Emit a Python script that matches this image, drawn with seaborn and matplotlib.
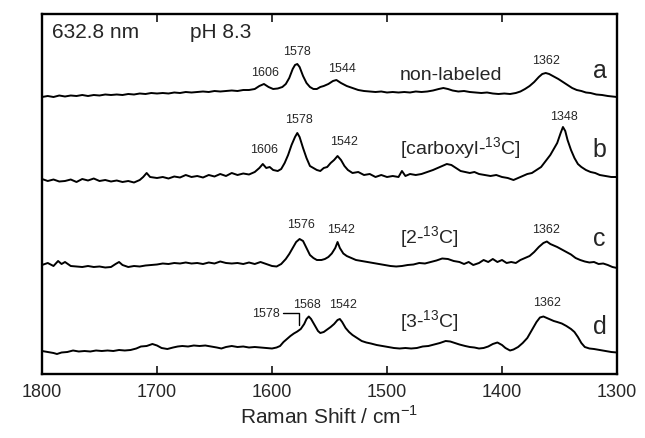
import numpy as np
import pandas as pd
import seaborn as sns
import matplotlib
matplotlib.use("Agg")
import matplotlib.pyplot as plt

# spectra (Raman shift in cm-1, intensity in arbitrary units)
shift_a = [1800, 1795, 1790, 1785, 1780, 1775, 1770, 1765, 1760, 1755, 1750, 1745, 1740, 1735, 1730,
           1725, 1720, 1715, 1710, 1705, 1700, 1695, 1690, 1685, 1680, 1675, 1670, 1665, 1660, 1655,
           1650, 1645, 1640, 1635, 1630, 1625, 1620, 1615, 1611, 1607, 1603, 1599, 1595, 1591, 1588,
           1585, 1582, 1580, 1578, 1576, 1573, 1570, 1567, 1564, 1561, 1558, 1555, 1551, 1547, 1544,
           1540, 1535, 1530, 1525, 1520, 1515, 1510, 1505, 1500, 1495, 1490, 1485, 1480, 1475, 1470,
           1465, 1460, 1455, 1451, 1447, 1443, 1438, 1433, 1428, 1423, 1418, 1413, 1408, 1403, 1398,
           1393, 1388, 1384, 1380, 1376, 1372, 1368, 1365, 1362, 1359, 1355, 1351, 1347, 1343, 1339,
           1335, 1331, 1327, 1323, 1318, 1313, 1308, 1304, 1300]
int_a = [3, 4, 3, 4.5, 3.5, 4.5, 4, 5, 4, 5, 4.5, 5.5, 5, 5.5, 5,
         6, 5.5, 6.5, 6, 7, 6.5, 7, 6.5, 7.5, 7, 8, 7.5, 8, 8.5, 8,
         9, 8.5, 9, 9.5, 9, 10, 10, 11, 14, 16, 13, 11, 11.5, 13, 16,
         22, 31, 35, 36, 33, 24, 17, 13, 11, 11, 13, 14, 16, 19, 20,
         17, 14, 12, 10, 9, 8.5, 8, 8.5, 7.5, 8, 7.5, 8, 7.5, 8.5, 8,
         8.5, 9.5, 11, 12, 11, 9.5, 8.5, 9, 8, 7.5, 7, 7.5, 6.5, 6, 6.5,
         6, 7, 8.5, 11, 14, 18, 23, 26, 27, 26, 23.5, 21, 18, 15, 12,
         10, 9, 7.5, 7, 5.5, 5, 4, 3.5, 3]

shift_b = [1800, 1795, 1790, 1785, 1780, 1775, 1770, 1765, 1760, 1755, 1750, 1745, 1740, 1735, 1730,
           1725, 1720, 1715, 1712, 1709, 1706, 1700, 1695, 1690, 1685, 1680, 1675, 1670, 1665, 1660,
           1655, 1650, 1645, 1640, 1635, 1630, 1625, 1620, 1615, 1611, 1608, 1605, 1602, 1599, 1595,
           1592, 1589, 1586, 1583, 1580, 1578, 1576, 1573, 1570, 1567, 1564, 1561, 1558, 1555, 1552,
           1549, 1546, 1543, 1540, 1537, 1534, 1530, 1525, 1520, 1515, 1510, 1505, 1500, 1495, 1490,
           1487, 1484, 1480, 1475, 1470, 1465, 1460, 1456, 1452, 1448, 1444, 1440, 1436, 1432, 1428,
           1424, 1420, 1415, 1410, 1405, 1400, 1395, 1390, 1386, 1382, 1378, 1374, 1370, 1366, 1362,
           1358, 1355, 1352, 1349, 1347, 1345, 1343, 1340, 1337, 1334, 1331, 1327, 1323, 1319, 1315,
           1310, 1305, 1300]
int_b = [6, 4, 5.5, 3.5, 4, 5.5, 3, 6, 4.5, 6.5, 4, 5, 3.5, 4.5, 3,
         4, 2.5, 5, 8, 12, 8, 7, 8, 6.5, 8.5, 7.5, 10, 8, 9, 7.5,
         10, 8.5, 11, 9, 12, 10, 11.5, 10.5, 13, 17, 21, 17, 18, 15, 14,
         16, 22, 30, 40, 48, 52, 48, 37, 27, 19, 17, 15, 14, 17, 18,
         22, 25, 29, 25, 19, 15, 12, 13, 10, 11, 8, 10, 8, 9, 8,
         14, 9, 11, 10, 11, 13, 15, 17, 19, 21, 20, 17, 14, 13, 12,
         13, 11, 10, 9, 10, 8, 7, 5, 7, 9, 11, 12, 15, 18, 24,
         30, 36, 42, 52, 58, 54, 45, 35, 27, 21, 18, 15, 13, 12, 10,
         9, 8, 8]

shift_c = [1800, 1795, 1790, 1786, 1783, 1780, 1775, 1770, 1765, 1760, 1755, 1750, 1745, 1740, 1736,
           1733, 1730, 1725, 1720, 1715, 1710, 1705, 1700, 1695, 1690, 1685, 1680, 1675, 1670, 1665,
           1660, 1655, 1650, 1645, 1640, 1635, 1630, 1625, 1620, 1615, 1610, 1605, 1600, 1596, 1592,
           1588, 1585, 1582, 1579, 1576, 1573, 1570, 1567, 1564, 1561, 1557, 1554, 1551, 1548, 1545,
           1543, 1541, 1538, 1535, 1531, 1527, 1522, 1517, 1512, 1507, 1502, 1497, 1492, 1487, 1482,
           1477, 1472, 1467, 1462, 1457, 1452, 1447, 1442, 1437, 1433, 1429, 1425, 1420, 1416, 1412,
           1408, 1404, 1400, 1396, 1392, 1388, 1384, 1380, 1376, 1372, 1368, 1364, 1361, 1358, 1355,
           1352, 1348, 1344, 1340, 1336, 1332, 1328, 1324, 1320, 1316, 1312, 1308, 1304, 1300]
int_c = [5, 7, 4, 9, 6, 8, 4, 3.5, 3, 4, 3, 3.5, 2.5, 3, 6,
         8, 5, 3, 4, 3.5, 4.5, 5, 5.5, 6.5, 6, 7, 6.5, 7.5, 6.5, 7,
         6, 7.5, 6.5, 8.5, 7, 6.5, 7, 6, 7.5, 6, 8, 6, 4, 3.5, 6,
         11, 16, 22, 28, 31, 29, 22, 15, 12, 10, 10, 11, 13, 16.5, 22,
         28, 22, 16.5, 14, 12, 10, 9, 8, 7, 6, 5, 4, 3.5, 4, 5,
         5.5, 7, 6.5, 8, 9.5, 11.5, 11, 9, 8, 6, 8, 5, 7, 10, 8,
         11, 8, 10, 7, 8, 7, 10, 12, 14, 18, 23, 27, 28.5, 26, 24.5,
         23, 20.5, 18, 15.5, 12, 10, 8.5, 7.5, 8, 6, 6.5, 5, 3, 2]

shift_d = [1800, 1795, 1790, 1787, 1783, 1778, 1773, 1768, 1763, 1758, 1753, 1748, 1743, 1738, 1733,
           1728, 1723, 1718, 1714, 1709, 1704, 1700, 1696, 1691, 1686, 1682, 1678, 1673, 1668, 1663,
           1658, 1653, 1648, 1644, 1640, 1635, 1630, 1625, 1620, 1615, 1610, 1605, 1600, 1596, 1593,
           1590, 1587, 1584, 1581, 1578, 1575, 1572, 1570, 1568, 1566, 1563, 1560, 1558, 1555, 1552,
           1549, 1546, 1543, 1541, 1539, 1536, 1533, 1530, 1526, 1522, 1518, 1514, 1509, 1504, 1499,
           1494, 1489, 1484, 1479, 1474, 1469, 1464, 1459, 1454, 1449, 1445, 1441, 1437, 1432, 1428,
           1424, 1420, 1416, 1412, 1408, 1404, 1400, 1397, 1393, 1390, 1386, 1382, 1378, 1374, 1370,
           1367, 1364, 1361, 1358, 1355, 1352, 1348, 1344, 1340, 1337, 1334, 1331, 1328, 1324, 1320,
           1315, 1310, 1305, 1300]
int_d = [6, 5, 4, 3, 4.5, 5, 6.5, 5.5, 6, 5.5, 6.5, 6, 6.5, 6, 7,
         6.5, 7, 8.5, 10.5, 11, 13, 11.5, 9, 8, 9.5, 10.5, 11, 10.5, 11.5, 11,
         11.5, 10.5, 9.5, 8.5, 10, 11, 10, 10.5, 9.5, 10, 9.5, 9, 8.5, 9.5, 11,
         15, 18, 21, 23.5, 25.5, 28, 33, 38, 40.5, 38, 32, 26, 24, 25, 27.5,
         30, 33, 37, 38, 35, 29, 25, 22, 19, 16, 14.5, 13.5, 12, 11, 10,
         9, 8.5, 9, 8.5, 9, 10.5, 11, 12.5, 14, 16, 15.5, 14, 12.5, 11, 10,
         9.5, 8.5, 9, 10.5, 13, 14.5, 12, 9, 6.5, 7.5, 10, 14, 19, 27, 35,
         39.5, 40.5, 39, 37.5, 36, 35, 33.5, 31, 28, 25, 20, 14, 10, 8.5, 8,
         7, 6, 5, 4.5]

samples = ["non-labeled", "[carboxyl-$^{\\mathregular{13}}$C]", "[2-$^{\\mathregular{13}}$C]",
           "[3-$^{\\mathregular{13}}$C]"]
letters = ["a", "b", "c", "d"]

sns.set_style("ticks")
plt.rcParams["font.family"] = ["Liberation Sans", "DejaVu Sans"]
plt.rcParams["mathtext.fontset"] = "custom"
plt.rcParams["mathtext.rm"] = "Liberation Sans"

fig = plt.figure(figsize=(6.45, 4.38), dpi=100)
ax = fig.add_axes([42 / 645, 1 - 374 / 438, 575 / 645, 360 / 438])

offsets = [274, 189, 104, 17]
spectra = [(shift_a, int_a), (shift_b, int_b), (shift_c, int_c), (shift_d, int_d)]
for (x, y), off in zip(spectra, offsets):
    df = pd.DataFrame({"shift": x, "inten": np.array(y) + off})
    sns.lineplot(data=df, x="shift", y="inten", color="black", lw=1.4,
                 estimator=None, sort=False, ax=ax)

# peak labels
peaks = [("1606", 1606, 301), ("1578", 1578, 322), ("1544", 1539, 305), ("1362", 1362, 313),
         ("1606", 1607, 224), ("1578", 1576.5, 254), ("1542", 1537.5, 232), ("1348", 1346, 257),
         ("1576", 1575, 149), ("1542", 1540, 144), ("1362", 1362, 144),
         ("1578", 1605, 60), ("1568", 1570, 69), ("1542", 1538, 69), ("1362", 1361, 71)]
for txt, px, py in peaks:
    ax.text(px, py, txt, ha="center", va="center", fontsize=9)
ax.plot([1590.4, 1576.5, 1576.5], [61.3, 61.3, 49], color="black", lw=1)

for txt, py in zip(samples, [299, 225, 136, 52]):
    ax.text(1489, py, txt, ha="left", va="center", fontsize=14)
for txt, py in zip(letters, [303, 224, 135, 47]):
    ax.text(1315, py, txt, ha="center", va="center", fontsize=18)

ax.text(1791, 342, "632.8 nm", ha="left", va="center", fontsize=15)
ax.text(1671, 342, "pH 8.3", ha="left", va="center", fontsize=15)

ax.set_xlim(1800, 1300)
ax.set_ylim(0, 360)
ax.set_xticks([1800, 1700, 1600, 1500, 1400, 1300])
ax.set_yticks([])
ax.tick_params(axis="x", direction="in", top=True, length=6, width=1.3, labelsize=13, pad=7)
for s in ax.spines.values():
    s.set_linewidth(1.7)
    s.set_color("black")
ax.set_xlabel("Raman Shift / cm$^{\\mathregular{-1}}$", fontsize=15, labelpad=3)
ax.set_ylabel("")

fig.savefig("out.png", dpi=100)
